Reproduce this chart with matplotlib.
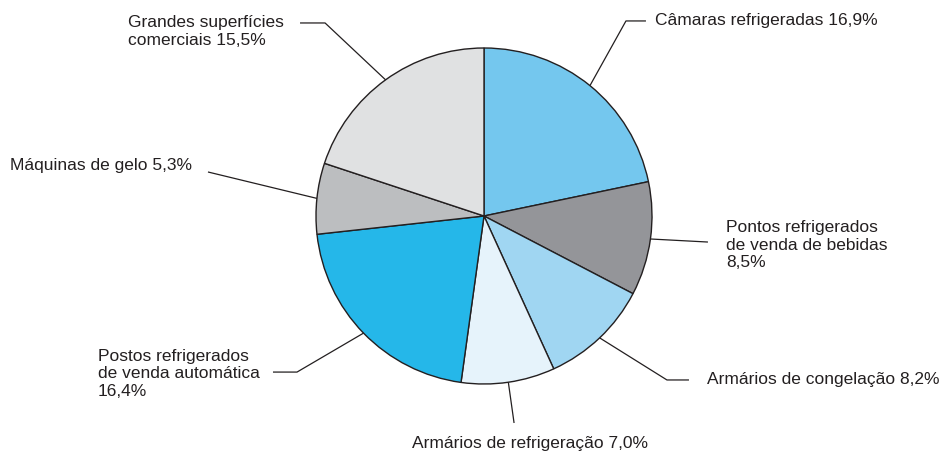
import numpy as np
import matplotlib.pyplot as plt

labels = ['Câmaras refrigeradas 16,9%',
          'Pontos refrigerados\nde venda de bebidas\n8,5%',
          'Armários de congelação 8,2%',
          'Armários de refrigeração 7,0%',
          'Postos refrigerados\nde venda automática\n16,4%',
          'Máquinas de gelo 5,3%',
          'Grandes superfícies\ncomerciais 15,5%']
shares = [16.9, 8.5, 8.2, 7.0, 16.4, 5.3, 15.5]
colors = ['#74C7EE', '#949599', '#A0D6F2', '#E6F3FB', '#25B7E9', '#BCBEC0', '#E0E1E2']

# leader path (elbow, end) and text anchor for each label, in pie-radius units
elbows = [(0.845, 1.161), None, (1.089, -0.976), None, (-1.113, -0.929), None, (-0.946, 1.149)]
ends = [(0.964, 1.161), (1.333, -0.155), (1.220, -0.976), (0.179, -1.232),
        (-1.256, -0.929), (-1.643, 0.262), (-1.095, 1.149)]
text_pos = [(1.018, 1.161, 'left'), (1.440, -0.173, 'left'), (1.327, -0.976, 'left'),
            (0.274, -1.357, 'center'), (-2.298, -0.940, 'left'), (-2.821, 0.298, 'left'),
            (-2.119, 1.098, 'left')]

plt.rcParams['font.family'] = ['Liberation Sans', 'DejaVu Sans']

fig = plt.figure(figsize=(9.41, 4.51), dpi=100)
ax = fig.add_axes([0, 0, 1, 1])
wedges, _ = ax.pie(shares, colors=colors, startangle=90, counterclock=False,
                   radius=1.0, center=(0, 0),
                   wedgeprops=dict(edgecolor='#231F20', linewidth=1.0))

for w, elb, end, (tx, ty, ha), lab in zip(wedges, elbows, ends, text_pos, labels):
    mid = np.deg2rad((w.theta1 + w.theta2) / 2)
    start = (np.cos(mid), np.sin(mid))
    pts = [start] + ([elb] if elb else []) + [end]
    xs, ys = zip(*pts)
    ax.plot(xs, ys, color='#231F20', linewidth=0.9, solid_capstyle='butt')
    ax.text(tx, ty, lab, ha=ha, va='center', fontsize=12.5, color='#231F20',
            linespacing=1.2)

ax.set_xlim(-484 / 168, (941 - 484) / 168)
ax.set_ylim(-(451 - 216) / 168, 216 / 168)
ax.set_aspect('equal')
ax.axis('off')
fig.savefig('out.png', dpi=100, facecolor='white')
